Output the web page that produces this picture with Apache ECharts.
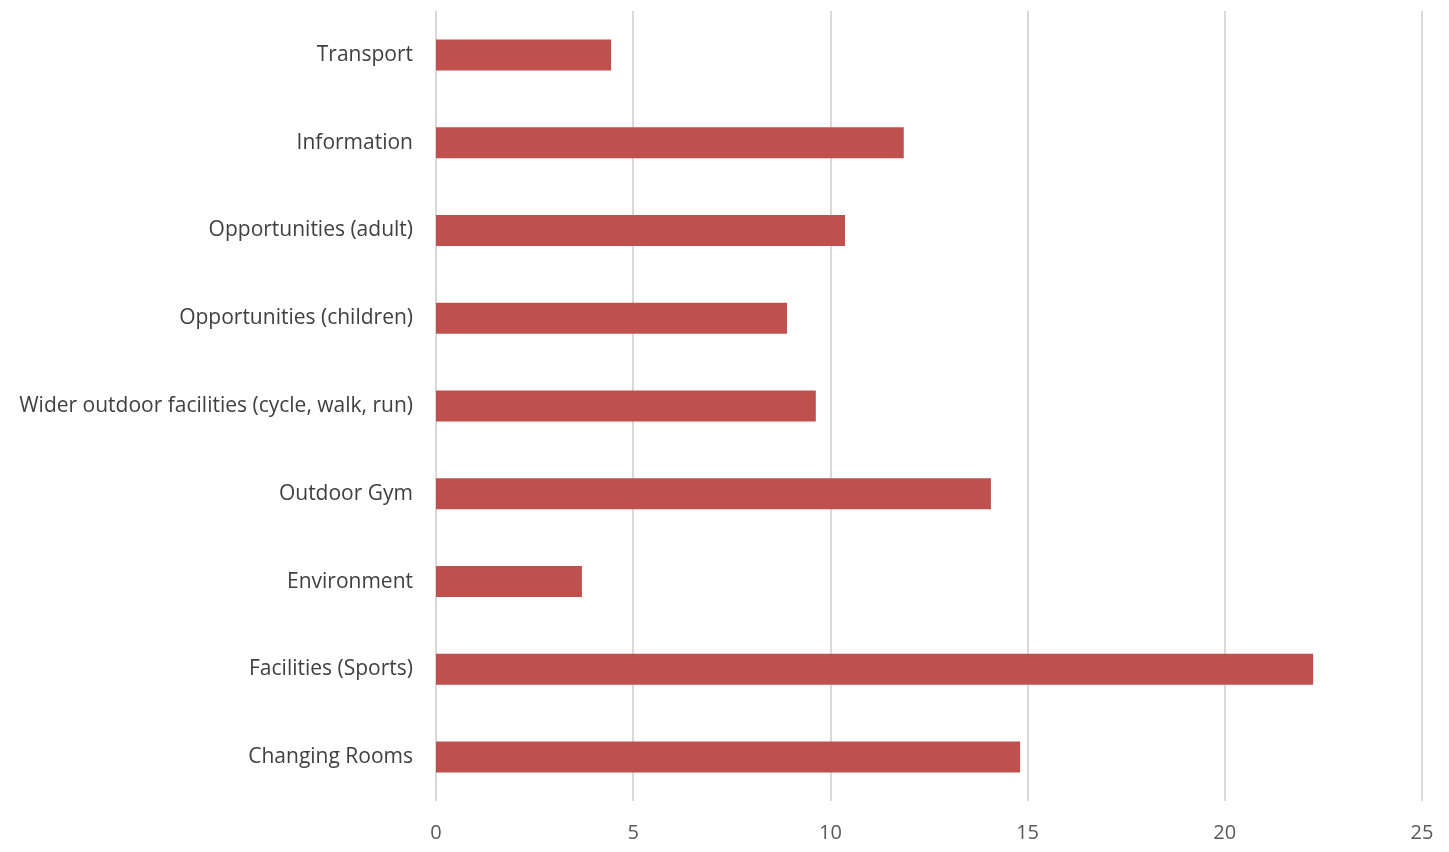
<!DOCTYPE html>
<html>
<head>
<meta charset="utf-8">
<script src="https://cdn.jsdelivr.net/npm/echarts@6/dist/echarts.min.js"></script>
<style>html,body{margin:0;padding:0;background:#fff}#c{width:1449px;height:852px}</style>
</head>
<body>
<div id="c"></div>
<script>
const categories = ["Transport","Information","Opportunities (adult)","Opportunities (children)","Wider outdoor facilities (cycle, walk, run)","Outdoor Gym","Environment","Facilities (Sports)","Changing Rooms"];
const values = [4.44, 11.86, 10.37, 8.9, 9.63, 14.07, 3.7, 22.24, 14.81];
const xTicks = [0, 5, 10, 15, 20, 25];

const chart = echarts.init(document.getElementById('c'), null, {renderer:'canvas'});
chart.setOption({
  animation: false,
  grid: {left: 436, right: 27, top: 11, bottom: 51, containLabel: false},
  xAxis: {
    type: 'value', min: xTicks[0], max: xTicks[xTicks.length-1], interval: 5,
    axisLine: {show: false}, axisTick: {show: false},
    splitLine: {show: true, lineStyle: {color: '#d9d9d9', width: 2}},
    axisLabel: {color: '#595959', fontSize: 20, fontFamily: 'Open Sans', margin: 22}
  },
  yAxis: {
    type: 'category', data: categories, inverse: true,
    axisLine: {show: false}, axisTick: {show: false},
    axisLabel: {color: '#404040', fontSize: 21, fontFamily: 'Open Sans', margin: 23}
  },
  series: [{
    type: 'bar', data: values, barWidth: 31,
    itemStyle: {color: '#C0504D'}
  }]
});
</script>
</body>
</html>
